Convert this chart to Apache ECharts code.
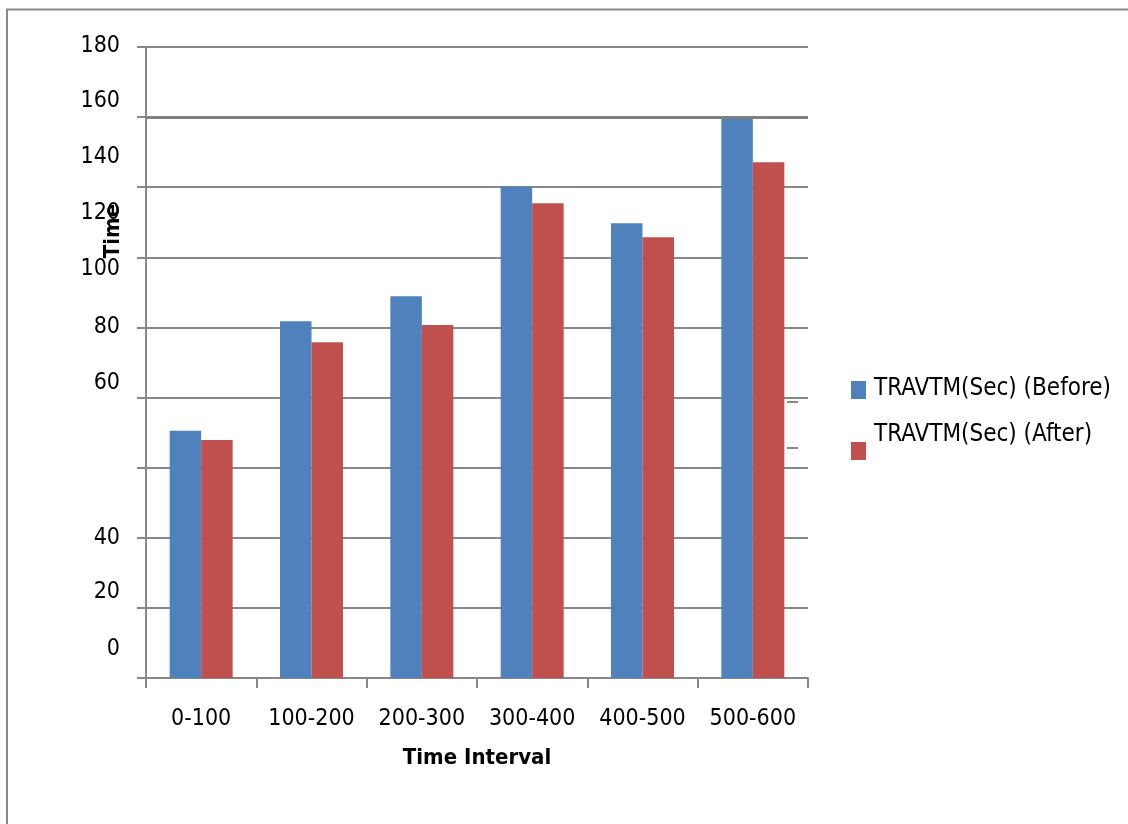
<!DOCTYPE html>
<html>
<head>
<meta charset="utf-8">
<title>TRAVTM(Sec) Before / After</title>
<script src="https://cdn.jsdelivr.net/npm/echarts@6/dist/echarts.min.js"></script>
<style>
  html, body { margin: 0; padding: 0; background: #ffffff; }
  #chart { width: 1128px; height: 824px; }
</style>
</head>
<body>
<div id="chart"></div>
<script>
// Travel time per time interval, before and after
const categories = ['0-100', '100-200', '200-300', '300-400', '400-500', '500-600'];
const beforeValues = [70.5, 101.8, 108.9, 140.2, 129.7, 160.0];
const afterValues = [67.9, 95.8, 100.7, 135.4, 125.7, 147.1];
const seriesNames = ['TRAVTM(Sec) (Before)', 'TRAVTM(Sec) (After)'];

// Value-axis tick labels and the axis value each label is drawn beside
const yTickLabels = ['180', '160', '140', '120', '100', '80', '60', '40', '20', '0'];
const yTickLabelAt = [180.4, 164.6, 148.7, 132.6, 116.7, 100.0, 84.2, 40.0, 24.6, 8.3];

const xAxisTitle = 'Time Interval';
const yAxisTitle = 'Time';

const BLUE = '#4F81BD';
const RED = '#C0504D';
const GRID = '#888888';
const FONT = '"Liberation Sans Narrow", "DejaVu Sans Condensed", "Liberation Sans", sans-serif';

const chart = echarts.init(document.getElementById('chart'), null, { renderer: 'canvas' });

const baseOption = {
  animation: false,
  backgroundColor: '#ffffff',
  grid: { left: 146, right: 320, top: 47, bottom: 146, containLabel: false },
  xAxis: {
    type: 'category',
    data: categories,
    axisLine: { show: true, lineStyle: { color: GRID, width: 2 } },
    axisTick: { show: true, interval: 0, length: 10, lineStyle: { color: GRID, width: 2 } },
    axisLabel: {
      interval: 0, color: '#000', fontFamily: FONT, fontSize: 23, margin: 30, lineHeight: 23
    },
    name: xAxisTitle,
    nameLocation: 'middle',
    nameGap: 69,
    nameTextStyle: {
      color: '#000', fontFamily: FONT, fontSize: 22, fontWeight: 'bold', lineHeight: 22
    },
    splitLine: { show: false }
  },
  yAxis: {
    type: 'value',
    min: 0,
    max: 180,
    interval: 20,
    axisLine: { show: true, lineStyle: { color: GRID, width: 2 } },
    axisTick: { show: true, length: 9, lineStyle: { color: GRID, width: 2 } },
    axisLabel: { show: false },
    splitLine: { show: true, lineStyle: { color: GRID, width: 2 } }
  },
  series: [
    {
      name: seriesNames[0],
      type: 'bar',
      data: beforeValues,
      barWidth: 31.5,
      barGap: '0%',
      itemStyle: { color: BLUE },
      markLine: {
        silent: true,
        symbol: ['none', 'none'],
        label: { show: false },
        lineStyle: { color: '#808080', width: 3, type: 'solid' },
        data: [{ yAxis: 160 }]
      }
    },
    {
      name: seriesNames[1],
      type: 'bar',
      data: afterValues,
      barWidth: 31.5,
      barGap: '0%',
      itemStyle: { color: RED }
    }
  ]
};

chart.setOption(baseOption);

// Tick labels, axis title, legend and frame drawn as graphic elements
const graphics = [];

yTickLabels.forEach(function (label, i) {
  const y = chart.convertToPixel({ yAxisIndex: 0 }, yTickLabelAt[i]);
  graphics.push({
    type: 'text',
    x: 120,
    y: y,
    silent: true,
    style: {
      text: label,
      fill: '#000',
      font: '23px ' + FONT,
      align: 'right',
      verticalAlign: 'middle'
    }
  });
});

graphics.push({
  type: 'text',
  x: 113,
  y: 231,
  rotation: Math.PI / 2,
  silent: true,
  z: 10,
  style: {
    text: yAxisTitle,
    fill: '#000',
    font: 'bold 22px ' + FONT,
    align: 'center',
    verticalAlign: 'middle'
  }
});

// Legend
graphics.push(
  { type: 'rect', shape: { x: 851, y: 381, width: 15, height: 18 }, style: { fill: BLUE }, silent: true },
  {
    type: 'text', x: 874, y: 389, silent: true,
    style: { text: seriesNames[0], fill: '#000', font: '24px ' + FONT, align: 'left', verticalAlign: 'middle' }
  },
  { type: 'rect', shape: { x: 851, y: 442, width: 15, height: 18 }, style: { fill: RED }, silent: true },
  {
    type: 'text', x: 874, y: 435, silent: true,
    style: { text: seriesNames[1], fill: '#000', font: '24px ' + FONT, align: 'left', verticalAlign: 'middle' }
  }
);

// Short rule fragments beside the legend
graphics.push(
  { type: 'line', shape: { x1: 787, y1: 402, x2: 798, y2: 402 }, style: { stroke: GRID, lineWidth: 2 }, silent: true },
  { type: 'line', shape: { x1: 787, y1: 448, x2: 798, y2: 448 }, style: { stroke: GRID, lineWidth: 2 }, silent: true }
);

// Outer frame (left and top edges)
graphics.push({
  type: 'polyline',
  shape: { points: [[7, 824], [7, 9.5], [1128, 9.5]] },
  style: { stroke: GRID, lineWidth: 2, fill: null },
  silent: true
});

chart.setOption({ graphic: graphics });
</script>
</body>
</html>
